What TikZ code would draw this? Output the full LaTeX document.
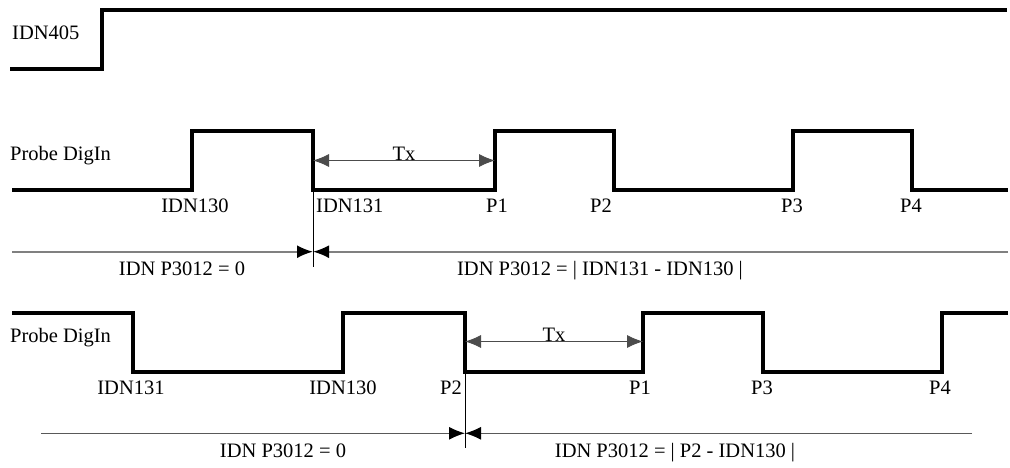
\documentclass[tikz,border=0pt]{standalone}
\usepackage{fontspec}
\setmainfont{Liberation Serif}
\usetikzlibrary{arrows.meta,positioning}

\begin{document}
\begin{tikzpicture}[x=1pt,y=-1pt,
  sig/.style={line width=3.6pt},
  lbl/.style={font=\fontsize{20.5}{24}\selectfont,inner sep=0pt},
  tx/.style={{Latex[length=16pt,width=13pt]}-{Latex[length=16pt,width=13pt]},line width=0.9pt,draw=black!70},
  meet/.style={-{Latex[length=16pt,width=13pt,color=black]}},
  axis/.style={line width=2pt,draw=black!50},
  axisb/.style={line width=1.2pt,draw=black!65},
  mark line/.style={line width=0.9pt}
]
\useasboundingbox (0,0) rectangle (1010,468);

% IDN405
\node[lbl,anchor=base west] (idn405) at (12,40) {IDN405};
\draw[sig] (10,69) -| (102,10) -- (1007,10);

% first probe signal
\node[lbl,anchor=base west] (probeA) at (10,161) {Probe DigIn};
\draw[sig] (12,190) -| (192,131) -| (313,190) -| (495,131) -| (614,190)
  -| (793,131) -| (912,190) -- (1008,190);
\node[lbl,anchor=base] (a130) at (195,212) {IDN130};
\node[lbl,anchor=base west] (a131) at (316,212) {IDN131};
\node[lbl,anchor=base] (aP1) at (497,212) {P1};
\node[lbl,anchor=base east] (aP2) at (612,212) {P2};
\node[lbl,anchor=base] (aP3) at (792,212) {P3};
\node[lbl,anchor=base] (aP4) at (911,212) {P4};
\coordinate (txAl) at (313,160.5);
\coordinate (txAr) at (495,160.5);
\draw[tx] (txAl) -- node[lbl,anchor=base] (txA) {Tx} (txAr);

\coordinate (zA) at (313,251.7);
\coordinate (zAl) at (12,251.7);
\coordinate (zAr) at (1008,251.7);
\coordinate (vAt) at (313,190);
\coordinate (vAb) at (313,267);
\draw[axis,meet] (zAl) -- (zA);
\draw[axis,meet] (zAr) -- (zA);
\draw[mark line] (vAt) -- (vAb);
\node[lbl,anchor=base] (eqA0) at (182,275) {IDN P3012 = 0};
\node[lbl,anchor=base] (eqA1) at (600,275) {IDN P3012 = | IDN131 - IDN130 |};

% second probe signal
\node[lbl,anchor=base west] (probeB) at (10,342) {Probe DigIn};
\draw[sig] (12,313) -| (133,372) -| (343,313) -| (465,372) -| (643,313)
  -| (763,372) -| (942,313) -- (1008,313);
\node[lbl,anchor=base] (b131) at (131,394) {IDN131};
\node[lbl,anchor=base] (b130) at (343,394) {IDN130};
\node[lbl,anchor=base east] (bP2) at (462,394) {P2};
\node[lbl,anchor=base] (bP1) at (640,394) {P1};
\node[lbl,anchor=base] (bP3) at (762,394) {P3};
\node[lbl,anchor=base] (bP4) at (940,394) {P4};
\coordinate (txBl) at (465,341.5);
\coordinate (txBr) at (643,341.5);
\draw[tx] (txBl) -- node[lbl,anchor=base] (txB) {Tx} (txBr);

\coordinate (zB) at (465,433.3);
\coordinate (zBl) at (41,433.3);
\coordinate (zBr) at (972,433.3);
\coordinate (vBt) at (465,372);
\coordinate (vBb) at (465,448);
\draw[axisb,meet] (zBl) -- (zB);
\draw[axisb,meet] (zBr) -- (zB);
\draw[mark line] (vBt) -- (vBb);
\node[lbl,anchor=base] (eqB0) at (283,457) {IDN P3012 = 0};
\node[lbl,anchor=base] (eqB1) at (675,457) {IDN P3012 = | P2 - IDN130 |};
\end{tikzpicture}
\end{document}
